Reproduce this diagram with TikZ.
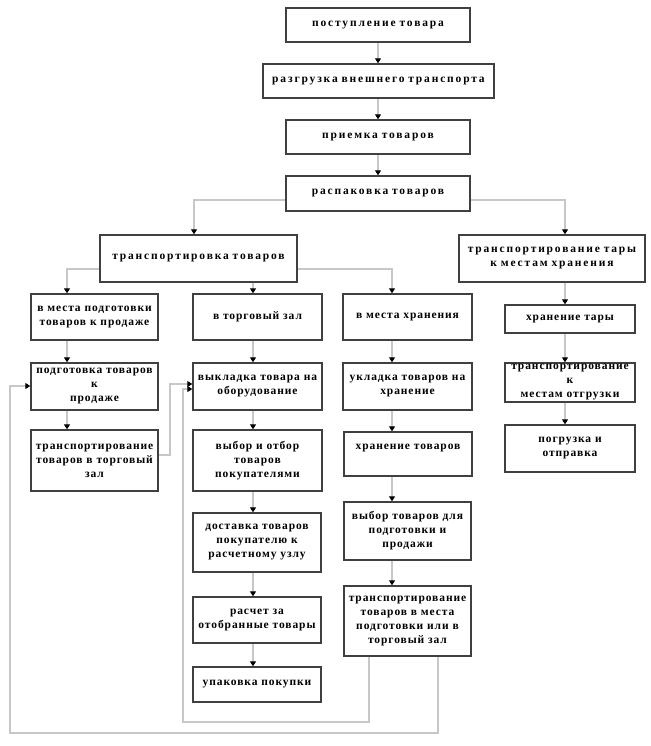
\documentclass[tikz,border=0pt]{standalone}
\usepackage{fontspec}
\setmainfont{Liberation Serif}
\newfontfamily\boxfont{Liberation Serif}[LetterSpace=8]
\newfontfamily\topfont{Liberation Serif}[LetterSpace=16]
\usetikzlibrary{arrows.meta}
\tikzset{
  box/.style={draw=black!75, line width=1.4pt, fill=white, inner sep=0pt, align=center,
    font=\boxfont\bfseries\fontsize{11.5}{14}\selectfont},
  topbox/.style={box, font=\topfont\bfseries\fontsize{11.5}{14}\selectfont},
  conn/.style={draw=black!22, line width=1.3pt},
  arr/.style={conn, -{Triangle[width=6pt,length=5pt,color=black]}},
}
\newcommand{\mybox}[7][box]{%
  \pgfmathsetmacro{\myW}{#5-#3}%
  \pgfmathsetmacro{\myH}{#6-#4}%
  \pgfmathsetmacro{\myT}{#5-#3-6}%
  \pgfmathsetmacro{\myX}{(#3+#5)/2}%
  \pgfmathsetmacro{\myY}{(#4+#6)/2}%
  \node[#1, minimum width=\myW pt, minimum height=\myH pt, text width=\myT pt] (#2) at (\myX,\myY) {#7};%
}
\begin{document}
\begin{tikzpicture}[x=1pt,y=-1pt]
\useasboundingbox (0,0) rectangle (650,746);
\mybox[topbox]{b1}{286}{8}{470}{42}{поступление товара}
\mybox[topbox]{b2}{263}{64}{494}{98}{разгрузка внешнего транспорта}
\mybox[topbox]{b3}{286}{120}{470}{154}{приемка товаров}
\mybox[topbox]{b4}{286}{176}{470}{211}{распаковка товаров}
\mybox[topbox]{b5}{100}{235}{297}{282}{транспортировка товаров}
\mybox[topbox]{b6}{459}{235}{645}{282}{транспортирование тары\\к местам хранения}
\mybox{c1}{31}{294}{158}{340}{в места подготовки\\товаров к продаже}
\mybox{c2}{193}{294}{322}{340}{в торговый зал}
\mybox{c3}{343}{294}{472}{340}{в места хранения}
\mybox{d1}{31}{363}{158}{410}{подготовка товаров\\к\\продаже}
\mybox{d2}{193}{363}{322}{410}{выкладка товара на\\оборудование}
\mybox{d3}{343}{363}{472}{410}{укладка товаров на\\хранение}
\mybox{e1}{31}{430}{158}{491}{транспортирование\\товаров в торговый\\зал}
\mybox{e2}{193}{430}{322}{491}{выбор и отбор\\товаров\\покупателями}
\mybox{e3}{344}{432}{472}{476}{хранение товаров\\\mbox{}}
\mybox{f2}{193}{513}{321}{572}{доставка товаров\\покупателю к\\расчетному узлу}
\mybox{f3}{344}{502}{471}{560}{выбор товаров для\\подготовки и\\продажи}
\mybox{g2}{193}{597}{321}{643}{расчет за\\отобранные товары}
\mybox{g3}{344}{586}{471}{656}{транспортирование\\товаров в места\\подготовки или в\\торговый зал}
\mybox{h2}{193}{667}{321}{702}{упаковка покупки}
\mybox{r1}{505}{305}{635}{333}{хранение тары}
\mybox{r2}{505}{363}{635}{402}{транспортирование\\к\\местам отгрузки}
\mybox{r3}{505}{425}{635}{472}{погрузка и\\отправка}
% routing coordinates
\coordinate (xA) at (67,0);
\coordinate (xB) at (253,0);
\coordinate (xC) at (392,0);
\coordinate (xD) at (565,0);
\coordinate (xT) at (194,0);
\coordinate (yS) at (0,200);
\coordinate (yT) at (0,269);
\coordinate (k1) at (170,455);
\coordinate (k2) at (170,384);
\coordinate (m1) at (369,722);
\coordinate (m2) at (183,389);
\coordinate (n1) at (438,733);
\coordinate (n2) at (10,386);
% top chain
\draw[arr] (b1.south) -- (b1.south |- b2.north);
\draw[arr] (b2.south -| b3.north) -- (b3.north);
\draw[arr] (b3.south) -- (b4.north);
% branches
\draw[arr] (b4.west |- yS) -| (b5.north -| xT);
\draw[arr] (b4.east |- yS) -| (b6.north -| xD);
\draw[arr] (b5.west |- yT) -| (c1.north -| xA);
\draw[arr] (b5.south -| xB) -- (c2.north -| xB);
\draw[arr] (b5.east |- yT) -| (c3.north -| xC);
% column 1
\draw[arr] (c1.south -| xA) -- (d1.north -| xA);
\draw[arr] (d1.south -| xA) -- (e1.north -| xA);
% column 2
\draw[arr] (c2.south -| xB) -- (d2.north -| xB);
\draw[arr] (d2.south -| xB) -- (e2.north -| xB);
\draw[arr] (e2.south -| xB) -- (f2.north -| xB);
\draw[arr] (f2.south -| xB) -- (g2.north -| xB);
\draw[arr] (g2.south -| xB) -- (h2.north -| xB);
% column 3
\draw[arr] (c3.south -| xC) -- (d3.north -| xC);
\draw[arr] (d3.south -| xC) -- (e3.north -| xC);
\draw[arr] (e3.south -| xC) -- (f3.north -| xC);
\draw[arr] (f3.south -| xC) -- (g3.north -| xC);
% right column
\draw[arr] (b6.south -| xD) -- (r1.north -| xD);
\draw[arr] (r1.south -| xD) -- (r2.north -| xD);
\draw[arr] (r2.south -| xD) -- (r3.north -| xD);
% feedback lines
\draw[arr] (e1.east |- k1) -- (k1) |- (d2.west |- k2);
\draw[arr] (g3.south -| m1) -- (m1) -| (m2) -- (d2.west |- m2);
\draw[arr] (g3.south -| n1) -- (n1) -| (n2) -- (d1.west |- n2);
\end{tikzpicture}
\end{document}
